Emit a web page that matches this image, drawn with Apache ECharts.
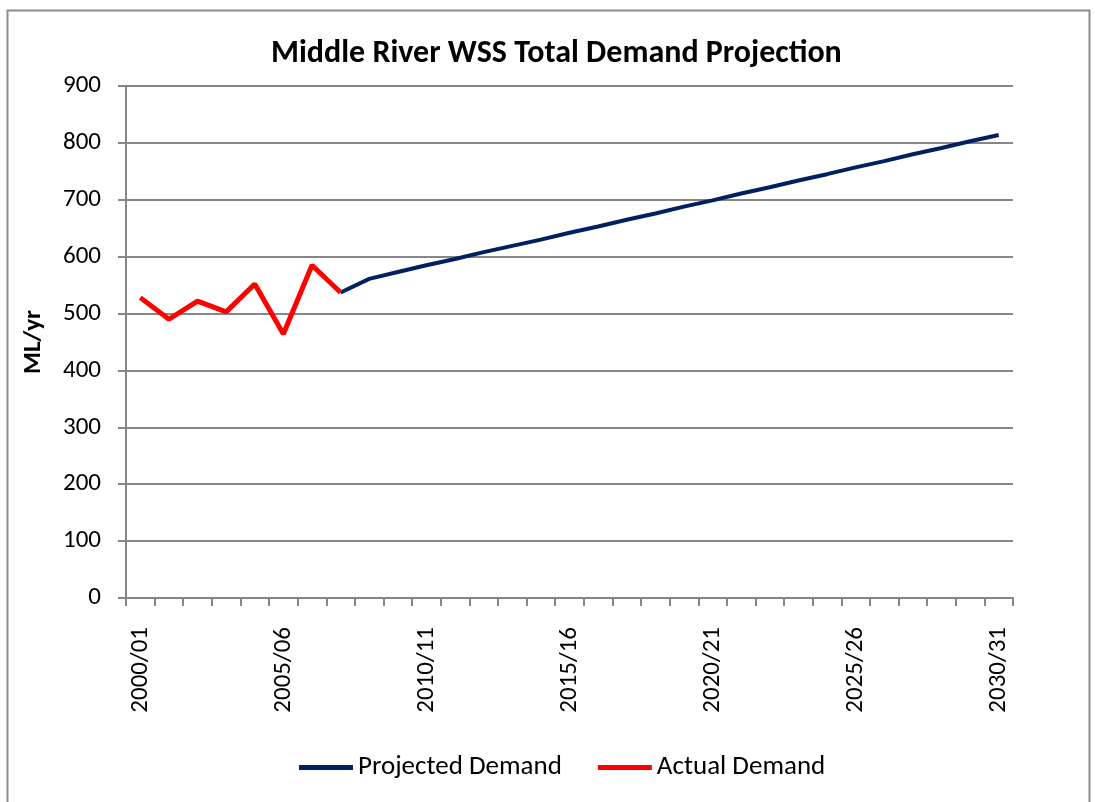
<!DOCTYPE html>
<html>
<head>
<meta charset="utf-8">
<script src="https://cdn.jsdelivr.net/npm/echarts@6/dist/echarts.min.js"></script>
<style>
html,body{margin:0;padding:0;background:#fff;}
#chart{width:1095px;height:802px;}
</style>
</head>
<body>
<div id="chart"></div>
<script>
var categories = [
  "2000/01","2001/02","2002/03","2003/04","2004/05","2005/06","2006/07","2007/08",
  "2008/09","2009/10","2010/11","2011/12","2012/13","2013/14","2014/15","2015/16",
  "2016/17","2017/18","2018/19","2019/20","2020/21","2021/22","2022/23","2023/24",
  "2024/25","2025/26","2026/27","2027/28","2028/29","2029/30","2030/31"
];
var actualDemand = [528, 490, 522, 503, 552, 464, 585, 537,
  null, null, null, null, null, null, null, null, null, null, null, null, null, null, null,
  null, null, null, null, null, null, null, null];
var projectedDemand = [null, null, null, null, null, null, null,
  537, 561, 573, 585, 596, 608, 619, 630, 642, 653, 665, 676, 688, 699, 711, 722,
  734, 745, 757, 768, 780, 791, 803, 814];
var yTicks = [0, 100, 200, 300, 400, 500, 600, 700, 800, 900];

var FONT = 'Carlito, Lato, "Open Sans", sans-serif';
var chart = echarts.init(document.getElementById('chart'), null, {renderer: 'canvas'});
chart.setOption({
  animation: false,
  backgroundColor: '#ffffff',
  textStyle: {fontFamily: FONT},
  graphic: [{
    type: 'rect',
    shape: {x: 7.5, y: 10.5, width: 1082, height: 820},
    style: {fill: 'none', stroke: '#8c8c8c', lineWidth: 2},
    silent: true
  }],
  title: {
    text: 'Middle River WSS Total Demand Projection',
    left: 266,
    top: 33,
    textStyle: {fontFamily: FONT, fontSize: 32, fontWeight: 'bold', color: '#000'}
  },
  legend: {
    data: ['Projected Demand', 'Actual Demand'],
    bottom: 16,
    left: 294,
    itemWidth: 54,
    itemHeight: 12,
    itemGap: 36,
    icon: 'path://M0,0 L54,0 L54,5 L0,5 Z',
    textStyle: {fontFamily: FONT, fontSize: 27, color: '#000', padding: [0, 0, 0, 0]}
  },
  grid: {left: 126, right: 82, top: 86, bottom: 204, containLabel: false},
  xAxis: {
    type: 'category',
    data: categories,
    boundaryGap: true,
    axisLine: {lineStyle: {color: '#868686', width: 2}},
    axisTick: {show: true, interval: 0, length: 8, lineStyle: {color: '#868686', width: 2}},
    axisLabel: {
      interval: 4,
      rotate: 90,
      margin: 29,
      fontFamily: FONT,
      fontSize: 25,
      color: '#000'
    },
    splitLine: {show: false}
  },
  yAxis: {
    type: 'value',
    min: 0,
    max: 900,
    interval: 100,
    name: 'ML/yr',
    nameLocation: 'middle',
    nameRotate: 90,
    nameGap: 80,
    nameTextStyle: {fontFamily: FONT, fontSize: 25, fontWeight: 'bold', color: '#000'},
    axisLine: {show: true, lineStyle: {color: '#868686', width: 2}},
    axisTick: {show: true, length: 8, lineStyle: {color: '#868686', width: 2}},
    axisLabel: {
      margin: 25,
      fontFamily: FONT,
      fontSize: 25,
      color: '#000',
      formatter: function (v) { return yTicks.indexOf(v) >= 0 ? String(v) : ''; }
    },
    splitLine: {show: true, lineStyle: {color: '#868686', width: 2}}
  },
  series: [
    {
      name: 'Projected Demand',
      type: 'line',
      data: projectedDemand,
      symbol: 'none',
      connectNulls: false,
      itemStyle: {color: '#002060'},
      lineStyle: {color: '#002060', width: 4}
    },
    {
      name: 'Actual Demand',
      type: 'line',
      data: actualDemand,
      symbol: 'none',
      connectNulls: false,
      itemStyle: {color: '#ff0000'},
      lineStyle: {color: '#ff0000', width: 5},
      z: 3
    }
  ]
});
</script>
</body>
</html>
